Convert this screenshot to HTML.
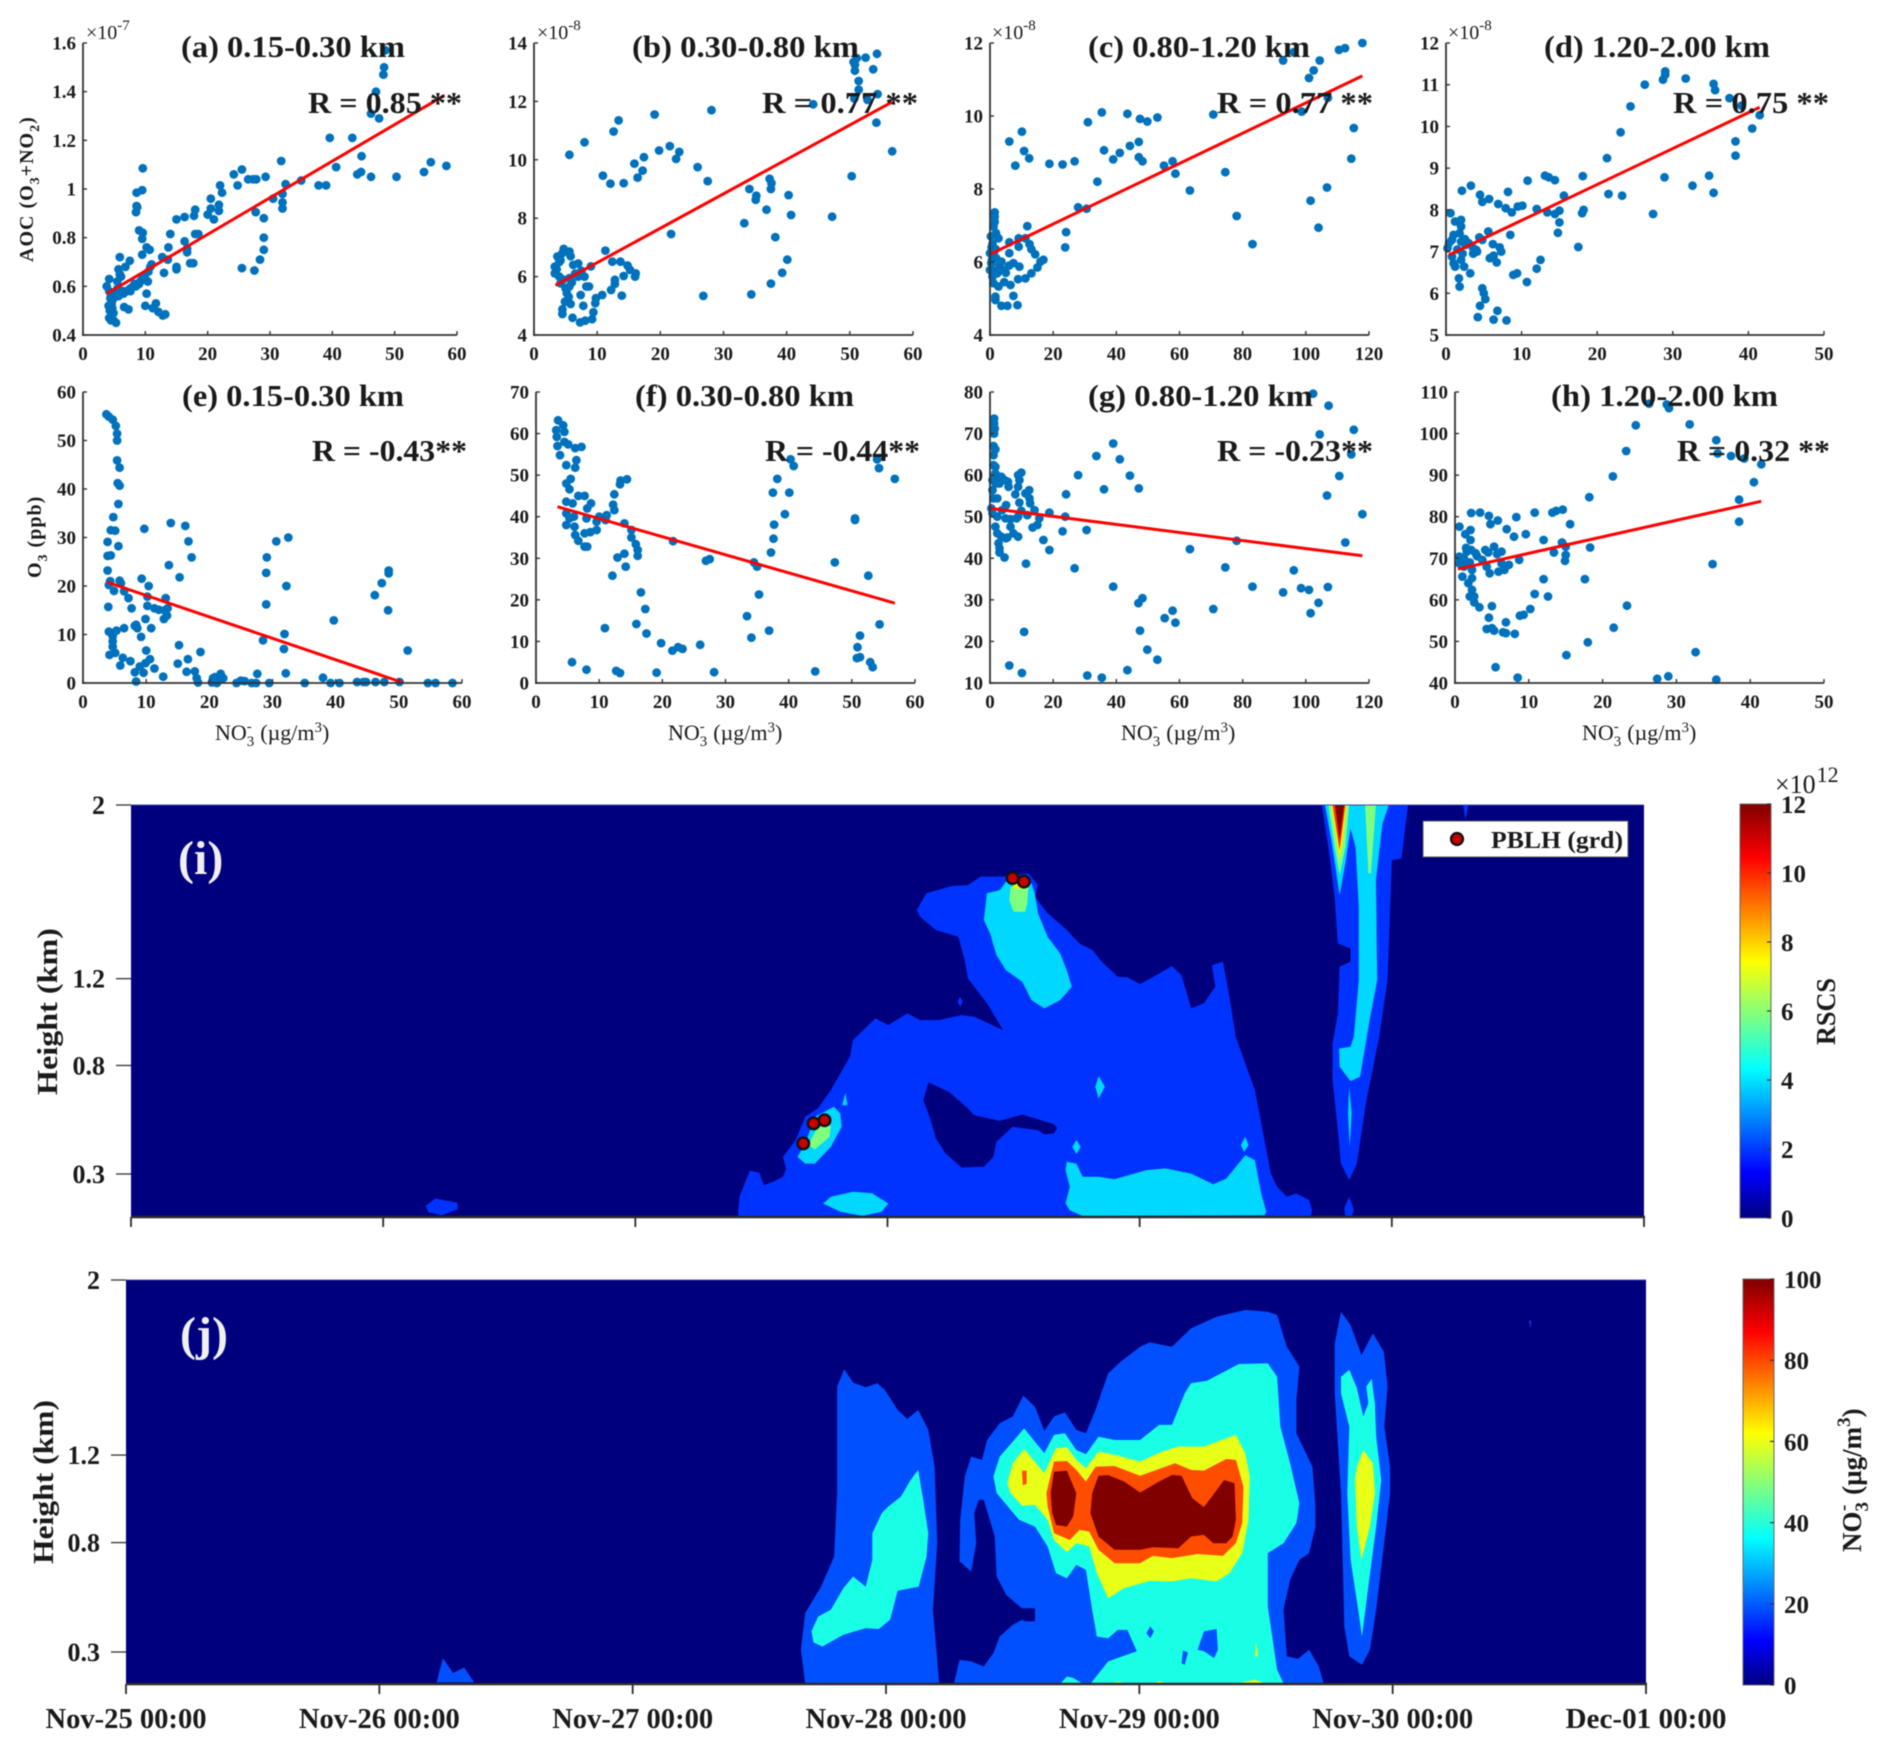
<!DOCTYPE html>
<html lang="en">
<head>
<meta charset="utf-8">
<title>NO3 correlation and height-time contour panels</title>
<style>
html,body{margin:0;padding:0;background:#fff;}
svg{display:block;filter:blur(0.4px);}
text{font-family:"Liberation Serif",serif;fill:#1a1a1a;}
.t{font-size:31px;font-weight:bold;}
.xl{font-size:22px;}
.yl{font-size:20px;font-weight:bold;letter-spacing:1px;}
</style>
</head>
<body>
<svg id="figure" xmlns="http://www.w3.org/2000/svg" width="1892" height="1748" viewBox="0 0 1892 1748">
<defs>
<linearGradient id="jet" x1="0" y1="1" x2="0" y2="0">
<stop offset="0" stop-color="#00007f"/><stop offset="0.11" stop-color="#0000ff"/><stop offset="0.36" stop-color="#00ffff"/><stop offset="0.62" stop-color="#ffff00"/><stop offset="0.87" stop-color="#ff0000"/><stop offset="1" stop-color="#7f0000"/>
</linearGradient>
<clipPath id="clip-i"><rect x="131" y="805" width="1513" height="412"/></clipPath>
<clipPath id="clip-j"><rect x="126" y="1280" width="1520" height="404"/></clipPath>
</defs>
<rect width="1892" height="1748" fill="#fff"/>

<g id="panel-a"></g>
<g id="panel-b"></g>
<g id="panel-c"></g>
<g id="panel-d"></g>
<g id="panel-e"></g>
<g id="panel-f"></g>
<g id="panel-g"></g>
<g id="panel-h"></g>

<g id="contour-i" clip-path="url(#clip-i)"></g>
<g id="contour-j" clip-path="url(#clip-j)"></g>
<g id="axes-i"></g>
<g id="axes-j"></g>
<g id="markers-i"></g>
<g id="colorbar-i"></g>
<g id="colorbar-j"></g>

<g>
<text class="t" x="181" y="57" textLength="224" lengthAdjust="spacingAndGlyphs">(a) 0.15-0.30 km</text>
<text class="t" x="632" y="57" textLength="227" lengthAdjust="spacingAndGlyphs">(b) 0.30-0.80 km</text>
<text class="t" x="1088" y="57" textLength="222" lengthAdjust="spacingAndGlyphs">(c) 0.80-1.20 km</text>
<text class="t" x="1544" y="57" textLength="226" lengthAdjust="spacingAndGlyphs">(d) 1.20-2.00 km</text>
<text class="t" x="182" y="406" textLength="222" lengthAdjust="spacingAndGlyphs">(e) 0.15-0.30 km</text>
<text class="t" x="635" y="406" textLength="219" lengthAdjust="spacingAndGlyphs">(f) 0.30-0.80 km</text>
<text class="t" x="1088" y="406" textLength="225" lengthAdjust="spacingAndGlyphs">(g) 0.80-1.20 km</text>
<text class="t" x="1551" y="406" textLength="227" lengthAdjust="spacingAndGlyphs">(h) 1.20-2.00 km</text>
</g>
<g>
<text class="t" x="308" y="113" textLength="154" lengthAdjust="spacingAndGlyphs">R = 0.85 **</text>
<text class="t" x="762" y="113" textLength="156" lengthAdjust="spacingAndGlyphs">R = 0.77 **</text>
<text class="t" x="1217" y="113" textLength="156" lengthAdjust="spacingAndGlyphs">R = 0.77 **</text>
<text class="t" x="1673" y="113" textLength="156" lengthAdjust="spacingAndGlyphs">R = 0.75 **</text>
<text class="t" x="312" y="461" textLength="155" lengthAdjust="spacingAndGlyphs">R = -0.43**</text>
<text class="t" x="765" y="461" textLength="155" lengthAdjust="spacingAndGlyphs">R = -0.44**</text>
<text class="t" x="1217" y="461" textLength="156" lengthAdjust="spacingAndGlyphs">R = -0.23**</text>
<text class="t" x="1677" y="461" textLength="153" lengthAdjust="spacingAndGlyphs">R = 0.32 **</text>
</g>
<g font-size="20">
<text x="86" y="39">×10<tspan font-size="15" dy="-9">-7</tspan></text>
<text x="537" y="39">×10<tspan font-size="15" dy="-9">-8</tspan></text>
<text x="992" y="39">×10<tspan font-size="15" dy="-9">-8</tspan></text>
<text x="1448" y="39">×10<tspan font-size="15" dy="-9">-8</tspan></text>
</g>
<text class="yl" transform="translate(33,262) rotate(-90)">AOC (O<tspan font-size="14" dy="6">3</tspan><tspan dy="-6">+NO</tspan><tspan font-size="14" dy="6">2</tspan><tspan dy="-6">)</tspan></text>
<text class="yl" transform="translate(41,578) rotate(-90)">O<tspan font-size="14" dy="6">3</tspan><tspan dy="-6"> (ppb)</tspan></text>
<g>
<text class="xl" x="215" y="740">NO<tspan font-size="15" dy="6">3</tspan><tspan font-size="15" dx="-7.5" dy="-15">-</tspan><tspan dx="3" dy="9"> (µg/m</tspan><tspan font-size="15" dy="-8">3</tspan><tspan dy="8">)</tspan></text>
<text class="xl" x="668" y="740">NO<tspan font-size="15" dy="6">3</tspan><tspan font-size="15" dx="-7.5" dy="-15">-</tspan><tspan dx="3" dy="9"> (µg/m</tspan><tspan font-size="15" dy="-8">3</tspan><tspan dy="8">)</tspan></text>
<text class="xl" x="1121" y="740">NO<tspan font-size="15" dy="6">3</tspan><tspan font-size="15" dx="-7.5" dy="-15">-</tspan><tspan dx="3" dy="9"> (µg/m</tspan><tspan font-size="15" dy="-8">3</tspan><tspan dy="8">)</tspan></text>
<text class="xl" x="1582" y="740">NO<tspan font-size="15" dy="6">3</tspan><tspan font-size="15" dx="-7.5" dy="-15">-</tspan><tspan dx="3" dy="9"> (µg/m</tspan><tspan font-size="15" dy="-8">3</tspan><tspan dy="8">)</tspan></text>
</g>
<text x="178" y="874" font-size="48" font-weight="bold" style="fill:#f0f0f0">(i)</text>
<text x="180" y="1350" font-size="48" font-weight="bold" style="fill:#f0f0f0">(j)</text>
<text font-size="29" font-weight="bold" transform="translate(57,1095) rotate(-90)" textLength="167" lengthAdjust="spacingAndGlyphs">Height (km)</text>
<text font-size="29" font-weight="bold" transform="translate(53,1564) rotate(-90)" textLength="164" lengthAdjust="spacingAndGlyphs">Height (km)</text>
<g>
<rect x="1423" y="821" width="205" height="36" fill="#fff" stroke="#555" stroke-width="1"/>
<circle cx="1457" cy="839" r="6" fill="#c80000" stroke="#111" stroke-width="2.2"/>
<text x="1491" y="848" font-size="24" font-weight="bold" textLength="132" lengthAdjust="spacingAndGlyphs">PBLH (grd)</text>
</g>
<g>
<text x="1775" y="793" font-size="26">×10<tspan font-size="22" dy="-11" dx="1">12</tspan></text>
<text font-size="27" font-weight="bold" transform="translate(1835,1045) rotate(-90)" textLength="67" lengthAdjust="spacingAndGlyphs">RSCS</text>
<text font-size="27" font-weight="bold" transform="translate(1861,1552) rotate(-90)">NO<tspan font-size="19" dy="7">3</tspan><tspan font-size="19" dx="-9" dy="-19">-</tspan><tspan dx="3" dy="12"> (µg/m</tspan><tspan font-size="19" dy="-11">3</tspan><tspan dy="11">)</tspan></text>
</g>
</svg>

<script>
// ---------- scatter data (x = NO3 in ug/m3, y = panel quantity) ----------
const pointsA=[[48.5,1.57],[48.3,1.5],[48.2,1.47],[47,1.4],[46.2,1.31],[47.5,1.29],[39.6,1.21],[43.2,1.21],[44.7,1.135],[31.8,1.115],[25.5,1.08],[9.6,1.085],[58.3,1.095],[55.8,1.11],[54.7,1.07],[50.3,1.05],[46.2,1.05],[44.6,1.07],[44,1.06],[40.6,1.09],[35,1.035],[32.5,1.02],[39,1.015],[37.8,1.015],[29.3,1.05],[27.8,1.04],[27.3,1.04],[26.5,1.04],[24.2,1.06],[24.8,1.015],[22,1.015],[22.3,.985],[20.5,.96],[32,.98],[32,.945],[30.5,.96],[32,.92],[27.7,.905],[29,.88],[21.8,.935],[21.8,.91],[20.5,.92],[20,.895],[21,.875],[18,.915],[17.8,.89],[16.3,.885],[15,.875],[29,.8],[29,.75],[28.4,.71],[27.5,.665],[25.5,.675],[18.5,.815],[18,.815],[16.3,.785],[14,.815],[13.7,.76],[16.7,.755],[16.7,.74],[17.7,.695],[17.2,.695],[15,.68],[15,.67],[13.6,.71],[12.7,.72],[13,.655],[8.6,.93],[8.7,.925],[8.5,.905],[8.6,.985],[9.5,.995],[9,.83],[9.6,.82],[9.5,.795],[10.2,.76],[10.7,.75],[9.5,.73],[10.8,.68],[7.5,.705],[6.8,.68],[5.9,.72],[5.7,.67],[5.9,.65],[6,.64],[11,.69],[10.5,.66],[9.8,.64],[9.2,.62],[10.4,.62],[8.3,.61],[7.5,.59],[6.5,.58],[5.5,.59],[5,.57],[4.5,.56],[4.2,.63],[3.8,.6],[10.2,.57],[6.6,.515],[7.3,.505],[10,.52],[11.2,.51],[11.7,.53],[12.1,.495],[12.8,.48],[13.2,.485],[4.2,.58],[4.4,.55],[4.6,.53],[4.1,.52],[4.3,.5],[4.7,.51],[4.9,.49],[4.2,.47],[4.5,.46],[4.9,.46],[5.3,.45],[4.9,.55],[5.3,.57],[5.7,.59],[5.7,.56],[6.1,.58],[6.5,.57],[7,.58],[7.6,.58],[8,.6],[8.5,.6],[9,.61],[9.5,.63],[10,.63],[5.5,.62],[6.1,.64]];
const pointsB=[[54.3,13.63],[52.5,13.5],[51.1,13.48],[50.6,13.35],[50.8,13.26],[50.8,13.05],[53.7,13.1],[51.4,12.7],[51.4,12.4],[54.4,12.25],[50.7,12.1],[52.8,12.05],[44.2,11.9],[28.1,11.7],[19.1,11.55],[13.4,11.35],[12.6,10.97],[8,10.6],[5.6,10.17],[21.5,10.47],[19.8,10.32],[23,10.27],[22.5,10.03],[17.4,10.09],[15.9,9.87],[17.2,9.63],[16.4,9.39],[10.9,9.46],[12.1,9.18],[14.2,9.2],[25.9,9.75],[27.5,9.27],[37.3,9.35],[37.6,9.2],[37.5,9],[34.1,9],[35.2,8.77],[35.1,8.63],[40.3,8.79],[36.8,8.29],[40.7,8.11],[33.3,7.83],[47.2,8.05],[50.3,9.44],[56.7,10.29],[54.2,11.27],[21.7,7.46],[38.2,7.35],[40.1,6.58],[39.3,6.13],[37.5,5.76],[34.4,5.39],[26.8,5.34],[11.3,6.89],[4.7,6.95],[12.4,6.51],[13.7,6.51],[14.8,6.38],[15.2,6.23],[16.1,6.11],[16,6],[14.2,6.02],[12.8,5.89],[12.8,5.75],[12.2,5.54],[13.9,5.35],[10.8,5.37],[9.8,5.26],[9.7,5.09],[9.4,4.78],[9.2,4.54],[8.1,4.49],[7.3,4.43],[6.1,4.59],[4.5,4.72],[4.5,4.88],[7.8,5],[5.8,5.06],[7.4,5.37],[4.9,5.14],[8.3,5.66],[8.7,5.66],[5.6,5.66],[8,6],[5.6,5.95],[9,6.35],[7,6.45],[5.6,6.86],[3.7,6.69],[3.3,6.34],[3.3,6.11],[4.2,5.77],[5.2,5.43],[4.2,6.55],[4.5,6.8],[4,6.5],[3.6,6.25],[4,6],[4.6,5.9],[5,5.6],[5.5,5.3],[6,5.8],[6.5,6.1],[7,6.0],[5.8,6.7],[6.2,6.4],[7.5,6.2]];
const pointsC=[[117.9,12],[112.4,11.86],[110.5,11.81],[104.4,11.52],[92.8,11.52],[96.2,11.75],[102.5,11.25],[101,11.04],[98.7,10.12],[107,10.5],[115.2,9.67],[114.4,8.83],[106.7,8.04],[101.5,7.68],[104,6.94],[83.1,6.49],[78.1,7.26],[63.3,7.96],[74.5,8.46],[70.7,10.04],[53,9.96],[49.8,9.85],[47.5,9.92],[43.5,10.06],[35.4,10.1],[31,9.83],[10.1,9.57],[6.1,9.3],[10.8,9.04],[12.4,8.84],[8,8.64],[18.8,8.69],[23,8.67],[26.8,8.76],[36.1,9.06],[39,8.81],[41.1,8.99],[44.3,9.18],[47.1,9.29],[47.1,8.87],[48.3,8.76],[55.1,8.64],[57.8,8.76],[58.7,8.42],[34,8.2],[27.9,7.5],[30.6,7.46],[11.8,6.98],[24.1,6.82],[23.8,6.4],[1.5,7.36],[1.5,7.24],[1.5,7.1],[1.1,6.97],[1.9,6.79],[2.7,6.65],[.8,6.5],[0,6.24],[.4,5.97],[0,5.78],[.8,5.6],[1.1,5.42],[9.1,6.65],[9.1,6.42],[11.2,6.65],[6.1,6.54],[6.1,6.24],[12.5,6.49],[13.1,6.35],[14.3,6.21],[16.9,6.06],[16,6.01],[15,5.85],[13.1,5.69],[11.2,5.55],[8.9,5.53],[9.3,5.87],[7.4,5.97],[3.6,6.01],[6.5,5.37],[2.7,5.33],[1.7,5.05],[1.7,4.96],[7.4,5.07],[8.7,4.82],[3.6,4.8],[5.5,4.8],[4.5,5.45],[.8,5.78],[2.3,5.69],[4.2,5.78],[1.2,6.2],[.5,6.4],[2,6.1],[3,5.9],[5,5.7],[6,5.9],[.3,6.7],[1.8,6.35],[.6,6.05]];
const pointsD=[[29,11.32],[29,11.24],[28.7,11.12],[31.7,11.15],[26.3,11],[35.4,11.02],[35.6,10.87],[37.5,10.68],[24.4,10.48],[39.1,10.5],[41.5,10.27],[40.5,9.95],[23.1,9.86],[38.3,9.64],[38.3,9.3],[21.3,9.24],[18.1,8.81],[28.9,8.78],[34.8,8.82],[32.6,8.58],[35.4,8.41],[21.5,8.38],[23.3,8.34],[27.4,7.9],[17.5,7.11],[15.6,8.34],[15,7.7],[14.8,7.45],[18.2,8],[18,7.92],[15,7.98],[14.4,7.9],[13.4,7.94],[12,8.02],[10.1,8.1],[9.5,8.08],[7.9,8.04],[8.7,7.94],[6.9,8.14],[5.7,8.26],[4.8,8.19],[4.5,8.36],[3.3,8.58],[2.1,8.46],[8.2,8.43],[10.8,8.7],[13.1,8.82],[13.6,8.78],[14.4,8.71],[8.5,7.4],[12.5,6.8],[12,6.59],[10.7,6.27],[9.4,6.48],[8.9,6.44],[6.7,6.74],[6.3,6.9],[5.8,6.84],[7.3,7],[7.1,7.1],[6.2,7.18],[5.6,7.48],[4.4,7.34],[4.8,7.28],[4,7.04],[3.2,6.48],[2.4,6.64],[1.8,6.16],[1.7,6.36],[1.2,6.64],[1,6.72],[4.8,6.12],[5,6],[5.2,5.86],[4.5,5.7],[4.2,5.43],[6.3,5.37],[6.8,5.58],[8,5.35],[.6,7.92],[1.2,7.72],[2,7.76],[2,7.6],[1.8,7.44],[.8,7.28],[.2,7.08],[2,7.24],[2.6,7.16],[3.6,7.08],[.8,6.88],[1.5,7.05],[2.2,6.95],[.4,7.2],[1,7.4],[2.5,7.3],[3,7.2],[4.1,7],[2,6.8],[3.6,6.95]];
const pointsE=[[3.7,55.4],[4.1,54.9],[4.7,54.3],[5.2,53],[5.4,51.4],[5.4,50],[5.4,45.9],[5.8,44.4],[5.5,41.2],[5.8,40.7],[5.6,36.9],[4.8,34.2],[4.4,31.5],[5.1,31.4],[3.9,29.1],[5.6,28.2],[3.9,26.2],[4.4,26.3],[3.9,23.2],[4.3,21],[4.1,20.2],[4.9,19],[4,15.7],[5.8,21.1],[6,20.6],[6.5,18.9],[7.2,17.5],[7.7,15.4],[9.7,31.8],[9.3,21.5],[10.4,20],[10.2,17.8],[10.2,15.9],[9.9,13.2],[10.8,11.3],[9.2,9.5],[10,6.7],[8.4,12],[8.2,11.8],[8.6,11.3],[6.5,11.3],[5.3,10.8],[4.1,10.6],[4.7,9.6],[4.7,8.6],[4.7,7.5],[5.1,6.2],[4.2,5.8],[6.3,5.2],[5.9,3.6],[7.5,4.5],[8.2,2.2],[8.4,.3],[9.6,2.1],[9,3.4],[9.9,4.1],[10.6,4.9],[11.3,3],[12.7,1.3],[13.9,33],[16.2,32.4],[16.7,29.2],[17.2,25.9],[13.6,24.3],[15.3,21.8],[13.1,17.5],[11.3,15.4],[12,15.1],[12.9,15],[13.4,15.4],[13.3,13.9],[12.8,13.2],[15.2,7.8],[16.6,4.9],[15,4],[18.6,6.4],[16.4,2.3],[17.7,2.4],[18,1],[18.2,.1],[30.6,29.2],[32.5,30],[29.1,25.9],[29,22.7],[32.2,20],[29,16.2],[31.9,10.1],[28.5,8.8],[31.8,7],[32.1,2],[39.7,12.9],[48.4,23.2],[48.4,22.6],[47.3,20.6],[46.2,18.1],[48.3,15],[51.4,6.7],[20.4,.1],[20.9,1.2],[20.6,1],[21.8,1.9],[22.2,1],[21.2,0],[24.3,0],[25,.5],[25.6,.4],[26.7,0],[27.6,1.9],[27.4,0],[29.5,0],[35.1,0],[38,1.1],[39.2,0],[40.6,0],[43.4,.2],[44.4,.2],[44.8,.2],[46.3,.2],[47.7,.2],[50.1,.2],[54.6,0],[55.8,0],[58.5,0]];
const pointsF=[[40.3,53.8],[40.8,52.2],[54,53.8],[54.3,51.7],[56.8,49.1],[38.2,49.1],[37.5,45.8],[40.1,45.8],[39.4,40.6],[37.7,38.1],[37.6,34.7],[37.2,31.4],[50.5,39.6],[50.5,39.2],[47.3,29],[52.6,25.8],[34.5,29],[35,28],[35.3,21.3],[33.4,16.1],[36.9,12.6],[34.1,10.9],[54.4,14.1],[51.3,11.4],[50.9,8.6],[50.8,6],[51.3,6.2],[52.9,5],[53.3,3.8],[44.2,2.8],[28.2,2.6],[19.1,2.5],[12.7,2.9],[13.3,2.4],[8,3.2],[5.7,5],[10.9,13.2],[15.9,14.2],[17.3,17.8],[16.6,21.8],[17.5,11.9],[19.8,9.6],[21.6,7.8],[22.5,8.6],[23.2,8.2],[26,9.2],[26.9,29.4],[27.5,29.8],[21.7,34.1],[12.1,25.8],[14.2,28],[12.9,30.2],[14,31.1],[16.1,30.6],[16.1,32],[15.8,33.4],[15.1,35],[15.1,36.8],[14,38.4],[12.4,41.6],[12.2,42.9],[12.4,45.4],[13.3,47.8],[13.4,48.7],[14.4,49],[3.5,63.2],[3.2,60.8],[3.3,59.2],[3.4,57],[4.3,62],[4.5,60.4],[3.8,54.8],[4.5,58],[5.1,57.4],[6.2,56.5],[7.2,56.8],[6.4,53.6],[6.2,51.8],[4.8,52.4],[5.5,49.1],[4.8,48],[5.3,46.6],[6.7,45],[7.7,45],[8.7,43.2],[8.1,42],[4.8,43.6],[5.8,43.2],[4.8,40.8],[5.3,39.6],[4.8,38],[6,40],[6.1,37.6],[6.2,35.6],[6.7,34.2],[7.7,32.8],[8.1,32.8],[7.7,36],[8.6,36.3],[9.6,36.8],[9.6,38.8],[8,39.6],[11.2,40.4],[11,39.2],[10,40]];
const pointsG=[[102.3,79.6],[107.2,76.7],[115.2,70.9],[104.4,69.8],[114.4,65],[110.6,59.8],[106.7,55.1],[117.9,50.6],[112.5,43.8],[78.1,44.2],[63.3,42.2],[74.5,37.8],[96.2,37.1],[98.5,32.8],[101,32.4],[107,33.1],[83.1,33.2],[92.8,31.8],[104,29.3],[101.5,26.8],[70.7,27.8],[57.8,27.4],[55.3,25.6],[58.7,24.5],[48.3,30.4],[47,29.2],[47.5,22.6],[49.8,18],[53,15.6],[43.5,13.1],[35.4,11.3],[30.8,11.8],[39,33.2],[26.8,37.6],[30.6,46.8],[23,46.5],[18.8,42],[16.9,44.4],[11.4,38.7],[10.8,22.3],[6.1,14.2],[10.1,12.4],[33.7,64.6],[39,67.6],[41.1,63.8],[44.3,59.9],[27.9,60],[36.1,56.6],[47.1,56.8],[24.1,55.4],[23.8,50],[18.8,51],[15.6,49.6],[15,48],[13.5,47.4],[1.3,73.6],[1.3,72.4],[1.5,71.2],[1.3,70],[1.1,67],[1.7,66.2],[1.1,64.8],[1.1,62.4],[1.7,62],[1.7,60.4],[.8,58.8],[2.7,58.8],[4.6,58.8],[3.6,59.6],[5.7,58.4],[5.9,57.2],[9.9,60.6],[8.9,60],[9.3,58.8],[8.9,57.2],[8,55.4],[11.2,55.6],[12.4,56.4],[12.5,54.4],[12.7,53.2],[14.1,51.6],[9.3,53.4],[9.9,51.4],[11.8,50.4],[8.9,50],[8.4,49.6],[5.1,52.8],[4.9,49.6],[6.5,49.4],[6.5,47.6],[7.4,46],[8.9,45.2],[5.5,45],[3.6,45.2],[5,44.8],[2.7,43.6],[3,42.4],[3,41.4],[4.6,40.2],[2.3,46],[1.7,47.6],[2.3,50],[.8,50.8],[.4,52],[1.1,54.4],[2.3,54.4],[.8,56.4],[3.8,51.6],[1.8,58],[3,58],[2,59.2]];
const pointsH=[[26.3,107.2],[28.7,107],[29,106.1],[31.8,102.2],[24.5,102],[23.2,95.8],[35.4,98.4],[35.6,95.2],[37.4,94.6],[39.2,94],[41.5,92.6],[40.5,88.3],[21.4,89.7],[18.2,84.7],[38.5,84.1],[38.5,78.8],[34.9,68.6],[32.6,47.4],[35.4,40.8],[28.9,41.6],[27.4,41],[18,49.8],[21.5,53.3],[23.3,58.6],[15.1,46.7],[17.6,65],[18.3,72.6],[15.6,78.2],[14.6,81.7],[13.7,81.4],[13.2,81],[10.8,81],[8.3,79.9],[9.6,75.8],[8,75.2],[7,77],[5.8,79.1],[4.8,78.2],[4.6,80.2],[3.4,81],[2.2,80.9],[12,74.4],[14.5,73.8],[15,72.8],[13.4,71.4],[15,70.8],[14.9,69.4],[12,65],[10.8,61.4],[12.6,60.8],[10.2,57.8],[9.3,56.4],[8.8,56.2],[6.9,54.6],[5,58.5],[4.6,55.7],[4.3,53],[5,53.2],[5.3,52.6],[6.5,52.2],[6.9,52],[8.1,51.8],[5.5,43.8],[8.5,41.3],[3.3,58.2],[2.6,59.4],[2.6,60.8],[2,60.8],[2.3,62.4],[1.8,64],[2.3,65.2],[1,65.6],[2.3,67.2],[1.2,68],[.6,68.8],[.6,70.4],[1.6,71.6],[2.8,71.2],[3.7,69.6],[4.3,68],[4.7,66.4],[5.9,66.8],[6.3,68.8],[6.7,67.2],[7.3,68.4],[8.7,69.6],[6.3,71.6],[5.3,72.8],[4.1,72],[4.5,71.4],[5.7,71],[2.1,74.4],[2.1,76.8],[1.4,75.8],[.6,77.6],[1.2,70],[2,69],[1.5,72.5],[2.2,72],[3,70.5]];

// ---------- regression lines ----------
const fitA=[[3.8,.57],[58,1.385]];
const fitB=[[3.4,5.7],[56.7,11.98]];
const fitC=[[.2,6.22],[117.9,11.1]];
const fitD=[[.4,6.92],[41.5,10.46]];
const fitE=[[3.8,20.8],[50.6,.1]];
const fitF=[[3.4,42.4],[56.8,19.2]];
const fitG=[[.2,52],[117.9,40.6]];
const fitH=[[.4,67.4],[41.5,83.7]];

// ---------- tick values ----------
const xTicks60=[0,10,20,30,40,50,60];
const xTicks120=[0,20,40,60,80,100,120];
const xTicks50=[0,10,20,30,40,50];
const yTicksA=[.4,.6,.8,1,1.2,1.4,1.6];
const yTicksB=[4,6,8,10,12,14];
const yTicksC=[4,6,8,10,12];
const yTicksD=[5,6,7,8,9,10,11,12];
const yTicksE=[0,10,20,30,40,50,60];
const yTicksF=[0,10,20,30,40,50,60,70];
const yTicksG=[10,20,30,40,50,60,70,80];
const yTicksH=[40,50,60,70,80,90,100,110];
const heightTicks=[2,1.2,.8,.3];
const timeTicks=[0,1,2,3,4,5,6];
const timeLabels=["Nov-25 00:00","Nov-26 00:00","Nov-27 00:00","Nov-28 00:00","Nov-29 00:00","Nov-30 00:00","Dec-01 00:00"];
const rscsTicks=[0,2,4,6,8,10,12];
const no3Ticks=[0,20,40,60,80,100];

// ---------- contour outlines: [days since Nov-25 00:00, height km] ----------
const iBlueMain=[[2.408,.103],[2.408,.133],[2.413,.195],[2.454,.315],[2.492,.306],[2.509,.249],[2.547,.264],[2.585,.287],[2.598,.325],[2.585,.379],[2.636,.456],[2.674,.564],[2.724,.602],[2.775,.686],[2.851,.84],[2.863,.917],[2.952,1.017],[3.003,.986],[3.079,1.04],[3.129,1.009],[3.205,1.009],[3.293,1.032],[3.344,1.024],[3.458,.963],[3.395,1.086],[3.319,1.201],[3.306,1.285],[3.281,1.393],[3.192,1.424],[3.129,1.485],[3.116,1.516],[3.154,1.593],[3.255,1.627],[3.319,1.631],[3.369,1.67],[3.458,1.67],[3.559,1.685],[3.597,1.631],[3.584,1.577],[3.635,1.501],[3.711,1.424],[3.761,1.362],[3.812,1.332],[3.85,1.278],[3.913,1.209],[3.951,1.206],[4.001,1.175],[4.065,1.216],[4.128,1.258],[4.166,1.216],[4.204,1.063],[4.254,1.086],[4.3,1.163],[4.287,1.262],[4.33,1.278],[4.356,1.117],[4.381,.932],[4.419,.809],[4.457,.686],[4.495,.456],[4.52,.302],[4.545,.241],[4.583,.195],[4.621,.21],[4.672,.18],[4.684,.133],[4.679,.103]];
const iHole=[[3.162,.722],[3.243,.679],[3.319,.602],[3.344,.571],[3.445,.545],[3.534,.574],[3.66,.53],[3.673,.51],[3.66,.487],[3.622,.482],[3.597,.502],[3.496,.517],[3.432,.448],[3.42,.379],[3.382,.333],[3.293,.33],[3.23,.395],[3.192,.464],[3.167,.564],[3.142,.64]];
const iBlueNov26=[[1.168,.153],[1.207,.187],[1.295,.167],[1.295,.138],[1.233,.11],[1.18,.124]];
const iBlueSpeck=[[3.288,1.117],[3.298,1.094],[3.288,1.07],[3.278,1.094]];
const iBluePlume=[[4.722,2],[4.748,1.808],[4.773,1.577],[4.786,1.362],[4.836,1.339],[4.836,1.278],[4.793,1.255],[4.786,1.04],[4.765,.902],[4.765,.733],[4.786,.502],[4.798,.348],[4.831,.272],[4.861,.348],[4.899,.64],[4.95,.932],[4.983,1.193],[5,1.746],[5.038,1.754],[5.064,2]];
const iBluePlumeBase=[[4.831,.195],[4.849,.134],[4.841,.103],[4.816,.103],[4.811,.141]];
const iBlueTop=[[5.284,2],[5.304,2],[5.291,1.931]];
const iCyanTop=[[3.394,1.593],[3.445,1.608],[3.47,1.647],[3.571,1.639],[3.584,1.593],[3.597,1.501],[3.635,1.393],[3.685,1.316],[3.711,1.239],[3.731,1.163],[3.685,1.101],[3.622,1.063],[3.571,1.101],[3.534,1.186],[3.47,1.239],[3.432,1.309],[3.407,1.408],[3.382,1.47]];
const iCyanLeft=[[2.643,.379],[2.674,.441],[2.712,.564],[2.788,.61],[2.813,.579],[2.818,.517],[2.775,.425],[2.712,.348],[2.674,.348]];
const iCyanSliver=[[2.833,.674],[2.841,.617],[2.82,.617]];
const iCyanEllipse=[[2.745,.164],[2.775,.195],[2.863,.218],[2.939,.211],[3.003,.164],[2.977,.126],[2.901,.107],[2.813,.126]];
const iCyanBottom=[[3.711,.356],[3.749,.348],[3.774,.287],[3.837,.287],[3.9,.276],[4.027,.318],[4.103,.326],[4.204,.302],[4.292,.253],[4.343,.279],[4.419,.387],[4.457,.364],[4.482,.21],[4.502,.126],[4.495,.11],[3.774,.106],[3.723,.133],[3.706,.164],[3.723,.241],[3.706,.318]];
const iCyanSpeck1=[[4.419,.471],[4.432,.433],[4.414,.402],[4.401,.433]];
const iCyanSpeck2=[[3.749,.456],[3.766,.425],[3.749,.392],[3.733,.425]];
const iCyanSpeck3=[[3.837,.751],[3.862,.702],[3.837,.648],[3.824,.702]];
const iCyanPlume=[[4.735,2],[4.76,1.839],[4.793,1.585],[4.816,1.731],[4.836,1.892],[4.856,1.808],[4.869,1.531],[4.869,1.193],[4.849,.932],[4.836,.886],[4.791,.878],[4.793,.794],[4.836,.728],[4.874,.748],[4.912,1.009],[4.942,1.193],[4.937,1.654],[4.963,1.915],[4.988,2]];
const iCyanThin=[[4.831,.702],[4.841,.579],[4.833,.425],[4.826,.579]];
const iGreenTop=[[3.488,1.623],[3.559,1.623],[3.554,1.547],[3.546,1.508],[3.501,1.508],[3.483,1.562]];
const iGreenLeft=[[2.686,.433],[2.724,.517],[2.775,.525],[2.77,.471],[2.712,.413]];
const iGreenPlume1=[[4.748,2],[4.773,1.808],[4.793,1.677],[4.816,1.808],[4.831,2]];
const iGreenPlume2=[[4.894,2],[4.907,1.685],[4.917,1.685],[4.937,2]];
const iYellowTip=[[3.496,1.639],[3.546,1.639],[3.546,1.616],[3.501,1.616]];
const iYellowPlume=[[4.76,2],[4.78,1.839],[4.793,1.746],[4.806,1.839],[4.821,2]];
const iOrangePlume=[[4.765,2],[4.793,1.792],[4.816,2]];
const iDarkPlume=[[4.775,2],[4.793,1.839],[4.811,2]];
const pblhPoints=[[3.496,1.663],[3.541,1.647],[2.75,.548],[2.707,.533],[2.666,.441]];

const jBlueNov26=[[1.226,.162],[1.251,.272],[1.291,.204],[1.335,.229],[1.374,.162]];
const jBlueLeft=[[2.681,.155],[2.664,.31],[2.681,.478],[2.744,.599],[2.795,.736],[2.807,1.026],[2.807,1.513],[2.835,1.592],[2.87,1.531],[2.92,1.51],[2.966,1.528],[2.996,1.497],[3.046,1.406],[3.084,1.365],[3.127,1.406],[3.167,1.315],[3.192,1.147],[3.202,.797],[3.185,.493],[3.21,.155]];
const jTealLeft=[[2.706,.394],[2.732,.462],[2.782,.493],[2.832,.592],[2.87,.645],[2.92,.599],[2.946,.721],[2.946,.843],[2.983,.934],[3.009,.965],[3.059,1.01],[3.097,1.086],[3.127,1.132],[3.147,.995],[3.167,.843],[3.16,.736],[3.129,.599],[3.046,.58],[3.016,.447],[2.971,.405],[2.92,.409],[2.832,.379],[2.749,.325],[2.714,.344]];
const jBlueMain=[[3.268,.155],[3.29,.264],[3.336,.257],[3.386,.234],[3.424,.295],[3.449,.371],[3.5,.424],[3.537,.447],[3.55,.44],[3.588,.44],[3.588,.5],[3.537,.5],[3.474,.561],[3.437,.645],[3.429,.828],[3.386,.995],[3.366,.995],[3.348,.934],[3.356,.797],[3.336,.668],[3.29,.714],[3.293,.904],[3.311,1.102],[3.336,1.193],[3.379,1.178],[3.399,1.269],[3.449,1.345],[3.5,1.376],[3.542,1.471],[3.588,1.421],[3.625,1.31],[3.663,1.376],[3.706,1.395],[3.751,1.315],[3.789,1.3],[3.827,1.406],[3.877,1.574],[3.927,1.627],[4.003,1.695],[4.041,1.715],[4.129,1.695],[4.204,1.779],[4.305,1.832],[4.418,1.863],[4.507,1.855],[4.544,1.84],[4.582,1.695],[4.632,1.604],[4.62,1.452],[4.62,1.3],[4.645,1.239],[4.683,1.147],[4.695,.965],[4.695,.873],[4.67,.752],[4.632,.721],[4.595,.63],[4.569,.493],[4.582,.28],[4.627,.269],[4.67,.31],[4.708,.234],[4.728,.155]];
const jTealMain=[[3.807,.155],[3.877,.257],[3.99,.303],[3.953,.401],[3.915,.401],[3.877,.363],[3.832,.371],[3.814,.493],[3.789,.675],[3.751,.698],[3.714,.637],[3.671,.66],[3.638,.782],[3.588,.873],[3.525,.904],[3.437,1.026],[3.424,1.102],[3.449,1.193],[3.5,1.261],[3.545,1.322],[3.625,1.208],[3.663,1.292],[3.706,1.3],[3.751,1.223],[3.789,1.204],[3.839,1.284],[3.902,1.269],[4.003,1.269],[4.078,1.338],[4.129,1.338],[4.179,1.482],[4.204,1.528],[4.267,1.54],[4.393,1.616],[4.507,1.619],[4.544,1.558],[4.557,1.33],[4.595,1.162],[4.632,.98],[4.62,.889],[4.569,.797],[4.507,.752],[4.507,.508],[4.544,.219],[4.57,.155]];
const jTealBase=[[3.688,.155],[3.714,.188],[3.739,.181],[3.777,.155]];
const jHole1=[[4.028,.386],[4.043,.417],[4.058,.394],[4.043,.363]];
const jHole2=[[4.23,.31],[4.255,.394],[4.305,.405],[4.31,.31],[4.295,.272],[4.255,.303]];
const jHole3=[[4.167,.249],[4.172,.307],[4.192,.298],[4.179,.242]];
const jYellowMain=[[3.479,1.071],[3.5,1.162],[3.545,1.228],[3.625,1.117],[3.671,1.231],[3.714,1.236],[3.751,1.178],[3.789,1.14],[3.839,1.216],[3.902,1.201],[4.003,1.17],[4.078,1.211],[4.154,1.239],[4.255,1.239],[4.381,1.292],[4.418,1.208],[4.436,1.102],[4.431,.904],[4.406,.752],[4.355,.66],[4.305,.622],[4.204,.637],[4.129,.622],[4.041,.625],[3.94,.592],[3.877,.546],[3.832,.66],[3.802,.782],[3.751,.797],[3.714,.755],[3.663,.812],[3.638,.904],[3.588,.972],[3.537,.969],[3.492,1.026]];
const jYellowSliver=[[4.456,.28],[4.461,.348],[4.469,.28]];
const jYellowBase1=[[3.877,.155],[3.915,.164],[3.953,.155]];
const jYellowBase2=[[4.053,.155],[4.078,.167],[4.109,.155]];
const jYellowBase3=[[4.381,.155],[4.456,.173],[4.501,.155]];
const jOrangeMain=[[3.633,1.026],[3.663,1.17],[3.714,1.173],[3.751,1.132],[3.789,1.079],[3.827,1.147],[3.902,1.15],[4.003,1.105],[4.141,1.163],[4.204,1.132],[4.255,1.129],[4.343,1.182],[4.381,1.178],[4.411,1.056],[4.406,.889],[4.381,.797],[4.33,.739],[4.23,.748],[4.129,.729],[4.053,.739],[4.003,.706],[3.902,.706],[3.839,.767],[3.802,.85],[3.764,.858],[3.726,.812],[3.663,.843],[3.638,.965]];
const jOrangeSmall=[[3.537,1.129],[3.555,1.129],[3.555,1.068],[3.54,1.062]];
const jDark1=[[3.65,1.026],[3.663,1.124],[3.714,1.129],[3.751,1.026],[3.739,.919],[3.714,.873],[3.671,.881],[3.656,.934]];
const jDark2=[[3.807,.934],[3.814,1.026],[3.839,1.105],[3.877,1.109],[3.94,1.079],[4.003,1.029],[4.078,1.079],[4.129,1.109],[4.167,1.105],[4.209,1.003],[4.255,.962],[4.335,1.086],[4.376,1.071],[4.381,.904],[4.368,.828],[4.343,.797],[4.292,.797],[4.255,.835],[4.204,.828],[4.154,.774],[4.053,.779],[4.003,.767],[3.902,.767],[3.839,.828]];
const jBluePlume=[[4.796,1.855],[4.834,1.794],[4.877,1.657],[4.922,1.756],[4.965,1.672],[4.98,1.513],[4.967,1.33],[4.99,1.147],[4.99,1.026],[4.935,.493],[4.91,.31],[4.879,.242],[4.829,.28],[4.809,.417],[4.796,1.026],[4.771,1.482],[4.771,1.71]];
const jTealPlume=[[4.796,1.558],[4.829,1.589],[4.859,1.505],[4.884,1.376],[4.904,1.437],[4.896,1.513],[4.917,1.548],[4.93,1.437],[4.935,1.284],[4.955,1.086],[4.935,.873],[4.897,.538],[4.879,.371],[4.864,.493],[4.834,.721],[4.821,1.026],[4.829,1.33],[4.796,1.482]];
const jYellowPlume=[[4.884,1.223],[4.922,1.162],[4.93,1.026],[4.91,.873],[4.877,.721],[4.859,.873],[4.851,1.086],[4.859,1.147]];
const jSpeck=[[5.539,1.814],[5.546,1.814],[5.544,1.779]];

// ---------- drawing ----------
const NS="http://www.w3.org/2000/svg";
function el(tag,attrs,parent){
  const e=document.createElementNS(NS,tag);
  for(const k in attrs){e.setAttribute(k,attrs[k]);}
  parent.appendChild(e);
  return e;
}
function linear(d0,d1,p0,p1){return v=>p0+(v-d0)*(p1-p0)/(d1-d0);}
function tickText(v){return String(Math.round(v*10)/10);}

function drawScatter(id,box,pts,fit,xTicks,yTicks){
  const g=document.getElementById(id);
  const sx=linear(box.xMin,box.xMax,box.left,box.right);
  const sy=linear(box.yMin,box.yMax,box.bottom,box.top);
  for(const p of pts){
    const dot=el('circle',{cx:sx(p[0]).toFixed(1),cy:sy(p[1]).toFixed(1),r:4.4,fill:'#0072bd'},g);
    
    
  }
  const fl=el('line',{x1:sx(fit[0][0]),y1:sy(fit[0][1]),x2:sx(fit[1][0]),y2:sy(fit[1][1]),stroke:'#ff0000','stroke-width':3},g);
  
  
  const ya=el('line',{x1:box.left,y1:box.top,x2:box.left,y2:box.bottom+1,stroke:'#333','stroke-width':1.8},g);
  
  
  const xa=el('line',{x1:box.left-1,y1:box.bottom,x2:box.right,y2:box.bottom,stroke:'#333','stroke-width':1.8},g);
  
  
  for(const v of xTicks){
    const t=el('line',{x1:sx(v),y1:box.bottom,x2:sx(v),y2:box.bottom-4,stroke:'#333','stroke-width':1.4},g);
    
    
    const l=el('text',{x:sx(v),y:box.bottom+25,'text-anchor':'middle','font-size':19,'font-weight':'bold'},g);
    l.textContent=tickText(v);
    
    
  }
  for(const v of yTicks){
    const t=el('line',{x1:box.left,y1:sy(v),x2:box.left+4,y2:sy(v),stroke:'#333','stroke-width':1.4},g);
    
    
    const l=el('text',{x:box.left-7,y:sy(v)+6.5,'text-anchor':'end','font-size':19,'font-weight':'bold'},g);
    l.textContent=tickText(v);
    
    
  }
}
const row1={top:43,bottom:335};
const row2={top:392,bottom:683};
drawScatter('panel-a',{left:83,right:457,top:row1.top,bottom:row1.bottom,xMin:0,xMax:60,yMin:.4,yMax:1.6},pointsA,fitA,xTicks60,yTicksA);
drawScatter('panel-b',{left:534,right:913,top:row1.top,bottom:row1.bottom,xMin:0,xMax:60,yMin:4,yMax:14},pointsB,fitB,xTicks60,yTicksB);
drawScatter('panel-c',{left:990,right:1369,top:row1.top,bottom:row1.bottom,xMin:0,xMax:120,yMin:4,yMax:12},pointsC,fitC,xTicks120,yTicksC);
drawScatter('panel-d',{left:1446,right:1824,top:row1.top,bottom:row1.bottom,xMin:0,xMax:50,yMin:5,yMax:12},pointsD,fitD,xTicks50,yTicksD);
drawScatter('panel-e',{left:83,right:462,top:row2.top,bottom:row2.bottom,xMin:0,xMax:60,yMin:0,yMax:60},pointsE,fitE,xTicks60,yTicksE);
drawScatter('panel-f',{left:536,right:915,top:row2.top,bottom:row2.bottom,xMin:0,xMax:60,yMin:0,yMax:70},pointsF,fitF,xTicks60,yTicksF);
drawScatter('panel-g',{left:990,right:1369,top:row2.top,bottom:row2.bottom,xMin:0,xMax:120,yMin:10,yMax:80},pointsG,fitG,xTicks120,yTicksG);
drawScatter('panel-h',{left:1455,right:1824,top:row2.top,bottom:row2.bottom,xMin:0,xMax:50,yMin:40,yMax:110},pointsH,fitH,xTicks50,yTicksH);

const tI=linear(0,6,131,1644), hI=linear(2,.3,805,1174);
const tJ=linear(0,6,126,1646), hJ=linear(2,.3,1280,1652);
function drawContour(g,pts,color,st,sh){
  const poly=el('polygon',{points:pts.map(p=>st(p[0]).toFixed(1)+','+sh(p[1]).toFixed(1)).join(' '),fill:color},g);
  
  
}
const cNavy='#00007f';
const gI=document.getElementById('contour-i');
const bgI=el('rect',{x:131,y:805,width:1513,height:412,fill:cNavy},gI);


[iBlueMain,iBlueNov26,iBlueSpeck,iBluePlume,iBluePlumeBase,iBlueTop].forEach(p=>drawContour(gI,p,'#0033ff',tI,hI));
drawContour(gI,iHole,cNavy,tI,hI);
[iCyanTop,iCyanLeft,iCyanSliver,iCyanEllipse,iCyanBottom,iCyanSpeck1,iCyanSpeck2,iCyanSpeck3,iCyanPlume,iCyanThin].forEach(p=>drawContour(gI,p,'#00d8ff',tI,hI));
[iGreenTop,iGreenLeft,iGreenPlume1,iGreenPlume2].forEach(p=>drawContour(gI,p,'#80ff7f',tI,hI));
[iYellowTip,iYellowPlume].forEach(p=>drawContour(gI,p,'#f5f000',tI,hI));
drawContour(gI,iOrangePlume,'#ff3000',tI,hI);
drawContour(gI,iDarkPlume,'#800000',tI,hI);

const gJ=document.getElementById('contour-j');
const bgJ=el('rect',{x:126,y:1280,width:1520,height:404,fill:cNavy},gJ);


[jBlueNov26,jBlueLeft,jBlueMain,jBluePlume,jSpeck].forEach(p=>drawContour(gJ,p,'#0050ff',tJ,hJ));
[jTealLeft,jTealMain,jTealBase,jTealPlume].forEach(p=>drawContour(gJ,p,'#19ffe6',tJ,hJ));
[jHole1,jHole2,jHole3].forEach(p=>drawContour(gJ,p,'#0050ff',tJ,hJ));
[jYellowMain,jYellowSliver,jYellowBase1,jYellowBase2,jYellowBase3,jYellowPlume].forEach(p=>drawContour(gJ,p,'#e8ff17',tJ,hJ));
[jOrangeMain,jOrangeSmall].forEach(p=>drawContour(gJ,p,'#ff4d00',tJ,hJ));
[jDark1,jDark2].forEach(p=>drawContour(gJ,p,'#800000',tJ,hJ));

function drawBigAxes(id,left,right,top,bottom,st,sh,labels){
  const g=document.getElementById(id);
  const tl=el('line',{x1:left,y1:top,x2:right,y2:top,stroke:'#3b4aa8','stroke-width':1},g);
  
  
  const xa=el('line',{x1:left,y1:bottom,x2:right+1,y2:bottom,stroke:'#2a2a2a','stroke-width':2.4},g);
  
  
  for(const v of timeTicks){
    const t=el('line',{x1:st(v),y1:bottom,x2:st(v),y2:bottom+10,stroke:'#2a2a2a','stroke-width':1.8},g);
    
    
    if(labels){
      const l=el('text',{x:st(v)-80.5,y:1728,'font-size':28,'font-weight':'bold',textLength:161,lengthAdjust:'spacingAndGlyphs'},g);
      l.textContent=timeLabels[v];
      
      
    }
  }
  for(const v of heightTicks){
    const t=el('line',{x1:left-15,y1:sh(v),x2:left,y2:sh(v),stroke:'#333','stroke-width':1.3},g);
    
    
    const l=el('text',{x:left-26,y:sh(v)+9,'text-anchor':'end','font-size':26,'font-weight':'bold'},g);
    l.textContent=tickText(v);
    
    
  }
}
drawBigAxes('axes-i',131,1644,805,1217,tI,hI,false);
drawBigAxes('axes-j',126,1646,1280,1684,tJ,hJ,true);

const gM=document.getElementById('markers-i');
for(const p of pblhPoints){
  const m=el('circle',{cx:tI(p[0]).toFixed(1),cy:hI(p[1]).toFixed(1),r:5.8,fill:'#c80000',stroke:'#111','stroke-width':2.4},gM);
  
  
}

function drawColorbar(id,left,right,top,bottom,ticks,maxV){
  const g=document.getElementById(id);
  const sv=linear(0,maxV,bottom,top);
  const r=el('rect',{x:left,y:top,width:right-left,height:bottom-top,fill:'url(#jet)',stroke:'#666','stroke-width':1},g);
  
  
  for(const v of ticks){
    const t=el('line',{x1:right-4,y1:sv(v),x2:right,y2:sv(v),stroke:'#333','stroke-width':1.2},g);
    
    
    const l=el('text',{x:right+10,y:sv(v)+9,'font-size':25,'font-weight':'bold'},g);
    l.textContent=tickText(v);
    
    
  }
}
drawColorbar('colorbar-i',1740,1771,804,1218,rscsTicks,12);
drawColorbar('colorbar-j',1743,1774,1279,1685,no3Ticks,100);
</script>
</body>
</html>
